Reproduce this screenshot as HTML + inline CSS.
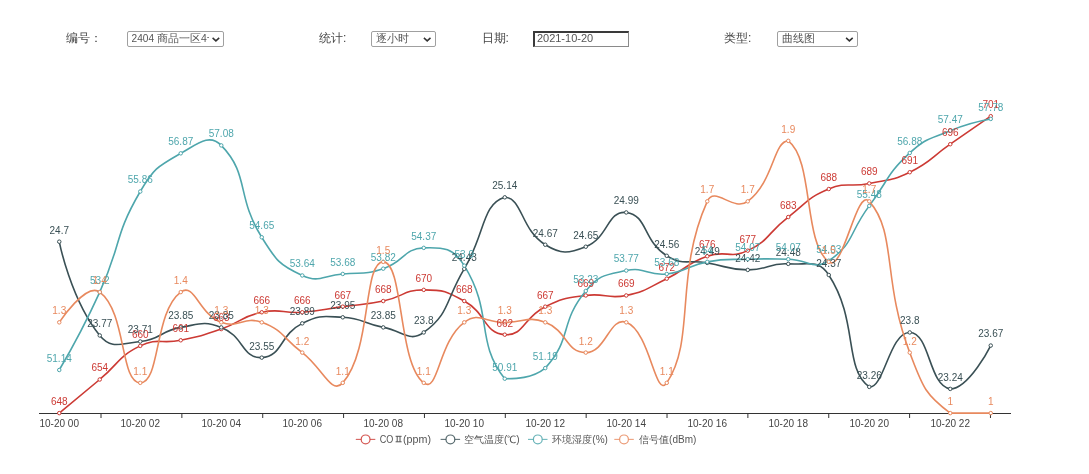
<!DOCTYPE html>
<html><head><meta charset="utf-8"><style>
html,body{margin:0;padding:0;background:#fff;width:1089px;height:474px;overflow:hidden;position:relative;font-family:"Liberation Sans",sans-serif}
body{filter:blur(0.3px)}
svg text{font-family:"Liberation Sans",sans-serif}
.lbl{position:absolute;font-size:12px;color:#444;line-height:16px;top:30.4px;white-space:nowrap}
.sel{position:absolute;top:31.4px;height:15.4px;box-sizing:border-box;border:1px solid #a0a0a0;border-radius:2px;background:#fff;font-size:10.5px;line-height:13.4px;color:#555;padding-left:4px;white-space:nowrap;overflow:hidden}
.sel .t{position:absolute;left:4px;top:0;overflow:hidden;white-space:nowrap}
.sel svg{position:absolute;top:0;left:0}
.date{position:absolute;top:31.3px;height:15.3px;box-sizing:border-box;border-top:2px solid #3a3a3a;border-left:2px solid #3a3a3a;border-right:1.5px solid #8a8a8a;border-bottom:1.5px solid #8a8a8a;background:#fff;font-size:11px;line-height:11.5px;color:#555;padding-left:2px}
</style></head><body>
<div class="lbl" style="left:66px">编号：</div>
<div class="sel" style="left:126.6px;width:97px"><div class="t" style="width:77px"><span style="font-size:10.1px">2404</span> 商品一区4号</div><svg width="98" height="15" style="position:absolute;left:0;top:0"><polyline points="84.6,5.9 87.9,8.9 91.2,5.9" fill="none" stroke="#333" stroke-width="1.5"/></svg></div>
<div class="lbl" style="left:319px">统计:</div>
<div class="sel" style="left:371.3px;width:64.3px"><div class="t">逐小时</div><svg width="65" height="15" style="position:absolute;left:0;top:0"><polyline points="51.9,5.9 55.2,8.9 58.5,5.9" fill="none" stroke="#333" stroke-width="1.5"/></svg></div>
<div class="lbl" style="left:481.5px">日期:</div>
<div class="date" style="left:532.9px;width:96.6px">2021-10-20</div>
<div class="lbl" style="left:724px">类型:</div>
<div class="sel" style="left:777.1px;width:80.5px"><div class="t">曲线图</div><svg width="81" height="15" style="position:absolute;left:0;top:0"><polyline points="68.1,5.9 71.4,8.9 74.7,5.9" fill="none" stroke="#333" stroke-width="1.5"/></svg></div>
<svg width="1089" height="474" viewBox="0 0 1089 474" style="position:absolute;left:0;top:0">
<line x1="39.0" y1="413.50" x2="1011.0" y2="413.50" stroke="#333" stroke-width="1"/>
<line x1="101.00" y1="413.50" x2="101.00" y2="418.00" stroke="#333" stroke-width="1"/>
<line x1="181.86" y1="413.50" x2="181.86" y2="418.00" stroke="#333" stroke-width="1"/>
<line x1="262.72" y1="413.50" x2="262.72" y2="418.00" stroke="#333" stroke-width="1"/>
<line x1="343.58" y1="413.50" x2="343.58" y2="418.00" stroke="#333" stroke-width="1"/>
<line x1="424.44" y1="413.50" x2="424.44" y2="418.00" stroke="#333" stroke-width="1"/>
<line x1="505.30" y1="413.50" x2="505.30" y2="418.00" stroke="#333" stroke-width="1"/>
<line x1="586.16" y1="413.50" x2="586.16" y2="418.00" stroke="#333" stroke-width="1"/>
<line x1="667.02" y1="413.50" x2="667.02" y2="418.00" stroke="#333" stroke-width="1"/>
<line x1="747.88" y1="413.50" x2="747.88" y2="418.00" stroke="#333" stroke-width="1"/>
<line x1="828.74" y1="413.50" x2="828.74" y2="418.00" stroke="#333" stroke-width="1"/>
<line x1="909.60" y1="413.50" x2="909.60" y2="418.00" stroke="#333" stroke-width="1"/>
<line x1="990.46" y1="413.50" x2="990.46" y2="418.00" stroke="#333" stroke-width="1"/>
<text x="59.25" y="427.00" text-anchor="middle" font-size="10.0" fill="#444">10-20 00</text>
<text x="140.25" y="427.00" text-anchor="middle" font-size="10.0" fill="#444">10-20 02</text>
<text x="221.25" y="427.00" text-anchor="middle" font-size="10.0" fill="#444">10-20 04</text>
<text x="302.25" y="427.00" text-anchor="middle" font-size="10.0" fill="#444">10-20 06</text>
<text x="383.25" y="427.00" text-anchor="middle" font-size="10.0" fill="#444">10-20 08</text>
<text x="464.25" y="427.00" text-anchor="middle" font-size="10.0" fill="#444">10-20 10</text>
<text x="545.25" y="427.00" text-anchor="middle" font-size="10.0" fill="#444">10-20 12</text>
<text x="626.25" y="427.00" text-anchor="middle" font-size="10.0" fill="#444">10-20 14</text>
<text x="707.25" y="427.00" text-anchor="middle" font-size="10.0" fill="#444">10-20 16</text>
<text x="788.25" y="427.00" text-anchor="middle" font-size="10.0" fill="#444">10-20 18</text>
<text x="869.25" y="427.00" text-anchor="middle" font-size="10.0" fill="#444">10-20 20</text>
<text x="950.25" y="427.00" text-anchor="middle" font-size="10.0" fill="#444">10-20 22</text>
<path d="M59.25 413.10 C59.25 413.10 79.50 396.29 99.75 379.49 C120.00 362.68 117.46 356.91 140.25 345.88 C157.96 337.31 160.78 344.42 180.75 340.28 C201.28 336.02 201.43 335.93 221.25 329.07 C241.93 321.92 240.70 316.63 261.75 312.27 C281.20 308.23 282.10 313.66 302.25 312.27 C322.60 310.86 322.50 309.47 342.75 306.66 C363.00 303.86 363.28 305.21 383.25 301.06 C403.78 296.80 403.50 289.86 423.75 289.86 C444.00 289.86 446.27 291.12 464.25 301.06 C486.77 313.52 483.83 333.23 504.75 334.67 C524.33 336.03 523.40 317.24 545.25 306.66 C563.90 297.64 565.13 298.31 585.75 295.46 C605.63 292.71 606.80 299.50 626.25 295.46 C647.30 291.09 647.05 288.19 666.75 278.66 C687.55 268.59 685.75 263.68 707.25 256.25 C726.25 249.68 730.04 259.22 747.75 250.65 C770.54 239.61 767.33 232.95 788.25 217.04 C807.83 202.14 806.62 198.21 828.75 189.03 C847.12 181.40 849.28 187.57 869.25 183.42 C889.78 179.17 891.10 181.25 909.75 172.22 C931.60 161.64 930.00 158.22 950.25 144.21 C970.50 130.21 990.75 116.20 990.75 116.20" fill="none" stroke="#cc3a34" stroke-width="1.60" stroke-linejoin="round"/>
<path d="M59.25 241.68 C59.25 241.68 70.84 299.83 99.75 335.46 C111.34 349.74 120.47 343.48 140.25 341.51 C160.97 339.44 159.92 331.02 180.75 327.39 C200.42 323.96 203.24 320.66 221.25 327.39 C243.74 335.79 241.99 358.63 261.75 357.64 C282.49 356.61 279.39 334.74 302.25 323.36 C319.89 314.57 322.69 316.31 342.75 317.31 C363.19 318.33 362.77 323.57 383.25 327.39 C403.27 331.13 409.52 342.71 423.75 332.43 C450.02 313.47 444.89 301.21 464.25 268.91 C485.39 233.65 481.71 204.20 504.75 197.32 C522.21 197.32 520.71 229.74 545.25 244.71 C561.21 254.44 568.21 253.71 585.75 246.73 C608.71 237.58 607.13 210.30 626.25 212.44 C647.63 214.84 642.83 240.91 666.75 255.80 C683.33 266.12 687.00 259.33 707.25 262.86 C727.50 266.39 727.46 269.66 747.75 269.92 C767.96 270.17 768.25 262.62 788.25 263.87 C808.75 265.14 818.19 258.92 828.75 274.96 C858.69 320.43 843.46 368.58 869.25 386.88 C883.96 388.90 889.74 331.94 909.75 332.43 C930.24 332.94 928.40 385.36 950.25 388.90 C968.90 388.90 990.75 345.54 990.75 345.54" fill="none" stroke="#3a5055" stroke-width="1.60" stroke-linejoin="round"/>
<path d="M59.25 369.99 C59.25 369.99 81.63 332.03 99.75 292.10 C122.13 242.79 113.49 237.37 140.25 191.52 C153.99 167.98 157.49 166.57 180.75 153.33 C197.99 143.51 209.45 133.16 221.25 145.39 C249.95 175.13 235.69 195.43 261.75 237.27 C276.19 260.47 278.81 264.85 302.25 275.46 C319.31 283.19 322.58 275.64 342.75 273.95 C363.08 272.24 364.10 274.83 383.25 268.66 C404.60 261.78 403.21 248.63 423.75 247.86 C443.71 247.11 453.35 248.02 464.25 265.63 C493.85 313.44 474.72 340.70 504.75 378.69 C515.22 378.69 532.11 378.69 545.25 368.10 C572.61 338.48 559.12 323.04 585.75 290.97 C599.62 274.27 604.89 275.03 626.25 270.55 C645.39 266.53 646.90 276.08 666.75 273.95 C687.40 271.73 686.59 265.61 707.25 261.85 C727.09 258.24 727.48 259.87 747.75 259.20 C767.98 258.54 768.01 258.83 788.25 259.20 C808.51 259.58 813.65 270.66 828.75 260.72 C854.15 244.00 848.77 233.13 869.25 205.89 C889.27 179.25 885.84 175.16 909.75 152.95 C926.34 137.54 929.07 139.54 950.25 130.64 C969.57 122.53 990.75 118.92 990.75 118.92" fill="none" stroke="#4ea6ac" stroke-width="1.60" stroke-linejoin="round"/>
<path d="M59.25 322.35 C59.25 322.35 86.09 281.90 99.75 292.10 C126.59 312.15 120.00 382.85 140.25 382.85 C160.50 382.85 153.91 312.15 180.75 292.10 C194.41 281.90 198.76 313.95 221.25 322.35 C239.26 329.08 243.74 315.62 261.75 322.35 C284.24 330.75 282.00 337.48 302.25 352.60 C322.50 367.73 331.26 395.73 342.75 382.85 C371.76 350.35 363.00 261.85 383.25 261.85 C403.50 261.85 397.96 363.59 423.75 382.85 C438.46 393.84 438.23 341.79 464.25 322.35 C478.73 311.54 484.50 322.35 504.75 322.35 C525.00 322.35 527.24 315.62 545.25 322.35 C567.74 330.75 565.50 352.60 585.75 352.60 C606.00 352.60 609.65 316.15 626.25 322.35 C650.15 331.28 655.36 399.87 666.75 382.85 C695.86 339.37 673.99 275.87 707.25 201.35 C714.49 185.12 733.27 212.16 747.75 201.35 C773.77 181.91 773.54 140.85 788.25 140.85 C814.04 160.11 802.96 242.59 828.75 261.85 C843.46 272.84 856.40 186.95 869.25 201.35 C896.90 232.32 882.10 280.33 909.75 352.60 C922.60 386.20 924.23 393.66 950.25 413.10 C964.73 413.10 990.75 413.10 990.75 413.10" fill="none" stroke="#e8895e" stroke-width="1.60" stroke-linejoin="round"/>
<circle cx="59.25" cy="413.10" r="1.75" fill="#fff" stroke="#cc3a34" stroke-width="1.00"/>
<circle cx="99.75" cy="379.49" r="1.75" fill="#fff" stroke="#cc3a34" stroke-width="1.00"/>
<circle cx="140.25" cy="345.88" r="1.75" fill="#fff" stroke="#cc3a34" stroke-width="1.00"/>
<circle cx="180.75" cy="340.28" r="1.75" fill="#fff" stroke="#cc3a34" stroke-width="1.00"/>
<circle cx="221.25" cy="329.07" r="1.75" fill="#fff" stroke="#cc3a34" stroke-width="1.00"/>
<circle cx="261.75" cy="312.27" r="1.75" fill="#fff" stroke="#cc3a34" stroke-width="1.00"/>
<circle cx="302.25" cy="312.27" r="1.75" fill="#fff" stroke="#cc3a34" stroke-width="1.00"/>
<circle cx="342.75" cy="306.66" r="1.75" fill="#fff" stroke="#cc3a34" stroke-width="1.00"/>
<circle cx="383.25" cy="301.06" r="1.75" fill="#fff" stroke="#cc3a34" stroke-width="1.00"/>
<circle cx="423.75" cy="289.86" r="1.75" fill="#fff" stroke="#cc3a34" stroke-width="1.00"/>
<circle cx="464.25" cy="301.06" r="1.75" fill="#fff" stroke="#cc3a34" stroke-width="1.00"/>
<circle cx="504.75" cy="334.67" r="1.75" fill="#fff" stroke="#cc3a34" stroke-width="1.00"/>
<circle cx="545.25" cy="306.66" r="1.75" fill="#fff" stroke="#cc3a34" stroke-width="1.00"/>
<circle cx="585.75" cy="295.46" r="1.75" fill="#fff" stroke="#cc3a34" stroke-width="1.00"/>
<circle cx="626.25" cy="295.46" r="1.75" fill="#fff" stroke="#cc3a34" stroke-width="1.00"/>
<circle cx="666.75" cy="278.66" r="1.75" fill="#fff" stroke="#cc3a34" stroke-width="1.00"/>
<circle cx="707.25" cy="256.25" r="1.75" fill="#fff" stroke="#cc3a34" stroke-width="1.00"/>
<circle cx="747.75" cy="250.65" r="1.75" fill="#fff" stroke="#cc3a34" stroke-width="1.00"/>
<circle cx="788.25" cy="217.04" r="1.75" fill="#fff" stroke="#cc3a34" stroke-width="1.00"/>
<circle cx="828.75" cy="189.03" r="1.75" fill="#fff" stroke="#cc3a34" stroke-width="1.00"/>
<circle cx="869.25" cy="183.42" r="1.75" fill="#fff" stroke="#cc3a34" stroke-width="1.00"/>
<circle cx="909.75" cy="172.22" r="1.75" fill="#fff" stroke="#cc3a34" stroke-width="1.00"/>
<circle cx="950.25" cy="144.21" r="1.75" fill="#fff" stroke="#cc3a34" stroke-width="1.00"/>
<circle cx="990.75" cy="116.20" r="1.75" fill="#fff" stroke="#cc3a34" stroke-width="1.00"/>
<circle cx="59.25" cy="241.68" r="1.75" fill="#fff" stroke="#3a5055" stroke-width="1.00"/>
<circle cx="99.75" cy="335.46" r="1.75" fill="#fff" stroke="#3a5055" stroke-width="1.00"/>
<circle cx="140.25" cy="341.51" r="1.75" fill="#fff" stroke="#3a5055" stroke-width="1.00"/>
<circle cx="180.75" cy="327.39" r="1.75" fill="#fff" stroke="#3a5055" stroke-width="1.00"/>
<circle cx="221.25" cy="327.39" r="1.75" fill="#fff" stroke="#3a5055" stroke-width="1.00"/>
<circle cx="261.75" cy="357.64" r="1.75" fill="#fff" stroke="#3a5055" stroke-width="1.00"/>
<circle cx="302.25" cy="323.36" r="1.75" fill="#fff" stroke="#3a5055" stroke-width="1.00"/>
<circle cx="342.75" cy="317.31" r="1.75" fill="#fff" stroke="#3a5055" stroke-width="1.00"/>
<circle cx="383.25" cy="327.39" r="1.75" fill="#fff" stroke="#3a5055" stroke-width="1.00"/>
<circle cx="423.75" cy="332.43" r="1.75" fill="#fff" stroke="#3a5055" stroke-width="1.00"/>
<circle cx="464.25" cy="268.91" r="1.75" fill="#fff" stroke="#3a5055" stroke-width="1.00"/>
<circle cx="504.75" cy="197.32" r="1.75" fill="#fff" stroke="#3a5055" stroke-width="1.00"/>
<circle cx="545.25" cy="244.71" r="1.75" fill="#fff" stroke="#3a5055" stroke-width="1.00"/>
<circle cx="585.75" cy="246.73" r="1.75" fill="#fff" stroke="#3a5055" stroke-width="1.00"/>
<circle cx="626.25" cy="212.44" r="1.75" fill="#fff" stroke="#3a5055" stroke-width="1.00"/>
<circle cx="666.75" cy="255.80" r="1.75" fill="#fff" stroke="#3a5055" stroke-width="1.00"/>
<circle cx="707.25" cy="262.86" r="1.75" fill="#fff" stroke="#3a5055" stroke-width="1.00"/>
<circle cx="747.75" cy="269.92" r="1.75" fill="#fff" stroke="#3a5055" stroke-width="1.00"/>
<circle cx="788.25" cy="263.87" r="1.75" fill="#fff" stroke="#3a5055" stroke-width="1.00"/>
<circle cx="828.75" cy="274.96" r="1.75" fill="#fff" stroke="#3a5055" stroke-width="1.00"/>
<circle cx="869.25" cy="386.88" r="1.75" fill="#fff" stroke="#3a5055" stroke-width="1.00"/>
<circle cx="909.75" cy="332.43" r="1.75" fill="#fff" stroke="#3a5055" stroke-width="1.00"/>
<circle cx="950.25" cy="388.90" r="1.75" fill="#fff" stroke="#3a5055" stroke-width="1.00"/>
<circle cx="990.75" cy="345.54" r="1.75" fill="#fff" stroke="#3a5055" stroke-width="1.00"/>
<circle cx="59.25" cy="369.99" r="1.75" fill="#fff" stroke="#4ea6ac" stroke-width="1.00"/>
<circle cx="99.75" cy="292.10" r="1.75" fill="#fff" stroke="#4ea6ac" stroke-width="1.00"/>
<circle cx="140.25" cy="191.52" r="1.75" fill="#fff" stroke="#4ea6ac" stroke-width="1.00"/>
<circle cx="180.75" cy="153.33" r="1.75" fill="#fff" stroke="#4ea6ac" stroke-width="1.00"/>
<circle cx="221.25" cy="145.39" r="1.75" fill="#fff" stroke="#4ea6ac" stroke-width="1.00"/>
<circle cx="261.75" cy="237.27" r="1.75" fill="#fff" stroke="#4ea6ac" stroke-width="1.00"/>
<circle cx="302.25" cy="275.46" r="1.75" fill="#fff" stroke="#4ea6ac" stroke-width="1.00"/>
<circle cx="342.75" cy="273.95" r="1.75" fill="#fff" stroke="#4ea6ac" stroke-width="1.00"/>
<circle cx="383.25" cy="268.66" r="1.75" fill="#fff" stroke="#4ea6ac" stroke-width="1.00"/>
<circle cx="423.75" cy="247.86" r="1.75" fill="#fff" stroke="#4ea6ac" stroke-width="1.00"/>
<circle cx="464.25" cy="265.63" r="1.75" fill="#fff" stroke="#4ea6ac" stroke-width="1.00"/>
<circle cx="504.75" cy="378.69" r="1.75" fill="#fff" stroke="#4ea6ac" stroke-width="1.00"/>
<circle cx="545.25" cy="368.10" r="1.75" fill="#fff" stroke="#4ea6ac" stroke-width="1.00"/>
<circle cx="585.75" cy="290.97" r="1.75" fill="#fff" stroke="#4ea6ac" stroke-width="1.00"/>
<circle cx="626.25" cy="270.55" r="1.75" fill="#fff" stroke="#4ea6ac" stroke-width="1.00"/>
<circle cx="666.75" cy="273.95" r="1.75" fill="#fff" stroke="#4ea6ac" stroke-width="1.00"/>
<circle cx="707.25" cy="261.85" r="1.75" fill="#fff" stroke="#4ea6ac" stroke-width="1.00"/>
<circle cx="747.75" cy="259.20" r="1.75" fill="#fff" stroke="#4ea6ac" stroke-width="1.00"/>
<circle cx="788.25" cy="259.20" r="1.75" fill="#fff" stroke="#4ea6ac" stroke-width="1.00"/>
<circle cx="828.75" cy="260.72" r="1.75" fill="#fff" stroke="#4ea6ac" stroke-width="1.00"/>
<circle cx="869.25" cy="205.89" r="1.75" fill="#fff" stroke="#4ea6ac" stroke-width="1.00"/>
<circle cx="909.75" cy="152.95" r="1.75" fill="#fff" stroke="#4ea6ac" stroke-width="1.00"/>
<circle cx="950.25" cy="130.64" r="1.75" fill="#fff" stroke="#4ea6ac" stroke-width="1.00"/>
<circle cx="990.75" cy="118.92" r="1.75" fill="#fff" stroke="#4ea6ac" stroke-width="1.00"/>
<circle cx="59.25" cy="322.35" r="1.75" fill="#fff" stroke="#e8895e" stroke-width="1.00"/>
<circle cx="99.75" cy="292.10" r="1.75" fill="#fff" stroke="#e8895e" stroke-width="1.00"/>
<circle cx="140.25" cy="382.85" r="1.75" fill="#fff" stroke="#e8895e" stroke-width="1.00"/>
<circle cx="180.75" cy="292.10" r="1.75" fill="#fff" stroke="#e8895e" stroke-width="1.00"/>
<circle cx="221.25" cy="322.35" r="1.75" fill="#fff" stroke="#e8895e" stroke-width="1.00"/>
<circle cx="261.75" cy="322.35" r="1.75" fill="#fff" stroke="#e8895e" stroke-width="1.00"/>
<circle cx="302.25" cy="352.60" r="1.75" fill="#fff" stroke="#e8895e" stroke-width="1.00"/>
<circle cx="342.75" cy="382.85" r="1.75" fill="#fff" stroke="#e8895e" stroke-width="1.00"/>
<circle cx="383.25" cy="261.85" r="1.75" fill="#fff" stroke="#e8895e" stroke-width="1.00"/>
<circle cx="423.75" cy="382.85" r="1.75" fill="#fff" stroke="#e8895e" stroke-width="1.00"/>
<circle cx="464.25" cy="322.35" r="1.75" fill="#fff" stroke="#e8895e" stroke-width="1.00"/>
<circle cx="504.75" cy="322.35" r="1.75" fill="#fff" stroke="#e8895e" stroke-width="1.00"/>
<circle cx="545.25" cy="322.35" r="1.75" fill="#fff" stroke="#e8895e" stroke-width="1.00"/>
<circle cx="585.75" cy="352.60" r="1.75" fill="#fff" stroke="#e8895e" stroke-width="1.00"/>
<circle cx="626.25" cy="322.35" r="1.75" fill="#fff" stroke="#e8895e" stroke-width="1.00"/>
<circle cx="666.75" cy="382.85" r="1.75" fill="#fff" stroke="#e8895e" stroke-width="1.00"/>
<circle cx="707.25" cy="201.35" r="1.75" fill="#fff" stroke="#e8895e" stroke-width="1.00"/>
<circle cx="747.75" cy="201.35" r="1.75" fill="#fff" stroke="#e8895e" stroke-width="1.00"/>
<circle cx="788.25" cy="140.85" r="1.75" fill="#fff" stroke="#e8895e" stroke-width="1.00"/>
<circle cx="828.75" cy="261.85" r="1.75" fill="#fff" stroke="#e8895e" stroke-width="1.00"/>
<circle cx="869.25" cy="201.35" r="1.75" fill="#fff" stroke="#e8895e" stroke-width="1.00"/>
<circle cx="909.75" cy="352.60" r="1.75" fill="#fff" stroke="#e8895e" stroke-width="1.00"/>
<circle cx="950.25" cy="413.10" r="1.75" fill="#fff" stroke="#e8895e" stroke-width="1.00"/>
<circle cx="990.75" cy="413.10" r="1.75" fill="#fff" stroke="#e8895e" stroke-width="1.00"/>
<text x="59.25" y="405.00" text-anchor="middle" font-size="10.0" fill="#cc3a34">648</text>
<text x="99.75" y="371.39" text-anchor="middle" font-size="10.0" fill="#cc3a34">654</text>
<text x="140.25" y="337.78" text-anchor="middle" font-size="10.0" fill="#cc3a34">660</text>
<text x="180.75" y="332.18" text-anchor="middle" font-size="10.0" fill="#cc3a34">661</text>
<text x="221.25" y="320.97" text-anchor="middle" font-size="10.0" fill="#cc3a34">663</text>
<text x="261.75" y="304.17" text-anchor="middle" font-size="10.0" fill="#cc3a34">666</text>
<text x="302.25" y="304.17" text-anchor="middle" font-size="10.0" fill="#cc3a34">666</text>
<text x="342.75" y="298.56" text-anchor="middle" font-size="10.0" fill="#cc3a34">667</text>
<text x="383.25" y="292.96" text-anchor="middle" font-size="10.0" fill="#cc3a34">668</text>
<text x="423.75" y="281.76" text-anchor="middle" font-size="10.0" fill="#cc3a34">670</text>
<text x="464.25" y="292.96" text-anchor="middle" font-size="10.0" fill="#cc3a34">668</text>
<text x="504.75" y="326.57" text-anchor="middle" font-size="10.0" fill="#cc3a34">662</text>
<text x="545.25" y="298.56" text-anchor="middle" font-size="10.0" fill="#cc3a34">667</text>
<text x="585.75" y="287.36" text-anchor="middle" font-size="10.0" fill="#cc3a34">669</text>
<text x="626.25" y="287.36" text-anchor="middle" font-size="10.0" fill="#cc3a34">669</text>
<text x="666.75" y="270.56" text-anchor="middle" font-size="10.0" fill="#cc3a34">672</text>
<text x="707.25" y="248.15" text-anchor="middle" font-size="10.0" fill="#cc3a34">676</text>
<text x="747.75" y="242.55" text-anchor="middle" font-size="10.0" fill="#cc3a34">677</text>
<text x="788.25" y="208.94" text-anchor="middle" font-size="10.0" fill="#cc3a34">683</text>
<text x="828.75" y="180.93" text-anchor="middle" font-size="10.0" fill="#cc3a34">688</text>
<text x="869.25" y="175.32" text-anchor="middle" font-size="10.0" fill="#cc3a34">689</text>
<text x="909.75" y="164.12" text-anchor="middle" font-size="10.0" fill="#cc3a34">691</text>
<text x="950.25" y="136.11" text-anchor="middle" font-size="10.0" fill="#cc3a34">696</text>
<text x="990.75" y="108.10" text-anchor="middle" font-size="10.0" fill="#cc3a34">701</text>
<text x="59.25" y="233.58" text-anchor="middle" font-size="10.0" fill="#3a5055">24.7</text>
<text x="99.75" y="327.36" text-anchor="middle" font-size="10.0" fill="#3a5055">23.77</text>
<text x="140.25" y="333.41" text-anchor="middle" font-size="10.0" fill="#3a5055">23.71</text>
<text x="180.75" y="319.29" text-anchor="middle" font-size="10.0" fill="#3a5055">23.85</text>
<text x="221.25" y="319.29" text-anchor="middle" font-size="10.0" fill="#3a5055">23.85</text>
<text x="261.75" y="349.54" text-anchor="middle" font-size="10.0" fill="#3a5055">23.55</text>
<text x="302.25" y="315.26" text-anchor="middle" font-size="10.0" fill="#3a5055">23.89</text>
<text x="342.75" y="309.21" text-anchor="middle" font-size="10.0" fill="#3a5055">23.95</text>
<text x="383.25" y="319.29" text-anchor="middle" font-size="10.0" fill="#3a5055">23.85</text>
<text x="423.75" y="324.33" text-anchor="middle" font-size="10.0" fill="#3a5055">23.8</text>
<text x="464.25" y="260.81" text-anchor="middle" font-size="10.0" fill="#3a5055">24.43</text>
<text x="504.75" y="189.22" text-anchor="middle" font-size="10.0" fill="#3a5055">25.14</text>
<text x="545.25" y="236.61" text-anchor="middle" font-size="10.0" fill="#3a5055">24.67</text>
<text x="585.75" y="238.63" text-anchor="middle" font-size="10.0" fill="#3a5055">24.65</text>
<text x="626.25" y="204.34" text-anchor="middle" font-size="10.0" fill="#3a5055">24.99</text>
<text x="666.75" y="247.70" text-anchor="middle" font-size="10.0" fill="#3a5055">24.56</text>
<text x="707.25" y="254.76" text-anchor="middle" font-size="10.0" fill="#3a5055">24.49</text>
<text x="747.75" y="261.82" text-anchor="middle" font-size="10.0" fill="#3a5055">24.42</text>
<text x="788.25" y="255.77" text-anchor="middle" font-size="10.0" fill="#3a5055">24.48</text>
<text x="828.75" y="266.86" text-anchor="middle" font-size="10.0" fill="#3a5055">24.37</text>
<text x="869.25" y="378.78" text-anchor="middle" font-size="10.0" fill="#3a5055">23.26</text>
<text x="909.75" y="324.33" text-anchor="middle" font-size="10.0" fill="#3a5055">23.8</text>
<text x="950.25" y="380.80" text-anchor="middle" font-size="10.0" fill="#3a5055">23.24</text>
<text x="990.75" y="337.44" text-anchor="middle" font-size="10.0" fill="#3a5055">23.67</text>
<text x="59.25" y="361.89" text-anchor="middle" font-size="10.0" fill="#4ea6ac">51.14</text>
<text x="99.75" y="284.00" text-anchor="middle" font-size="10.0" fill="#4ea6ac">53.2</text>
<text x="140.25" y="183.42" text-anchor="middle" font-size="10.0" fill="#4ea6ac">55.86</text>
<text x="180.75" y="145.23" text-anchor="middle" font-size="10.0" fill="#4ea6ac">56.87</text>
<text x="221.25" y="137.29" text-anchor="middle" font-size="10.0" fill="#4ea6ac">57.08</text>
<text x="261.75" y="229.17" text-anchor="middle" font-size="10.0" fill="#4ea6ac">54.65</text>
<text x="302.25" y="267.36" text-anchor="middle" font-size="10.0" fill="#4ea6ac">53.64</text>
<text x="342.75" y="265.85" text-anchor="middle" font-size="10.0" fill="#4ea6ac">53.68</text>
<text x="383.25" y="260.56" text-anchor="middle" font-size="10.0" fill="#4ea6ac">53.82</text>
<text x="423.75" y="239.76" text-anchor="middle" font-size="10.0" fill="#4ea6ac">54.37</text>
<text x="464.25" y="257.53" text-anchor="middle" font-size="10.0" fill="#4ea6ac">53.9</text>
<text x="504.75" y="370.59" text-anchor="middle" font-size="10.0" fill="#4ea6ac">50.91</text>
<text x="545.25" y="360.00" text-anchor="middle" font-size="10.0" fill="#4ea6ac">51.19</text>
<text x="585.75" y="282.87" text-anchor="middle" font-size="10.0" fill="#4ea6ac">53.23</text>
<text x="626.25" y="262.45" text-anchor="middle" font-size="10.0" fill="#4ea6ac">53.77</text>
<text x="666.75" y="265.85" text-anchor="middle" font-size="10.0" fill="#4ea6ac">53.68</text>
<text x="707.25" y="253.75" text-anchor="middle" font-size="10.0" fill="#4ea6ac">54</text>
<text x="747.75" y="251.10" text-anchor="middle" font-size="10.0" fill="#4ea6ac">54.07</text>
<text x="788.25" y="251.10" text-anchor="middle" font-size="10.0" fill="#4ea6ac">54.07</text>
<text x="828.75" y="252.62" text-anchor="middle" font-size="10.0" fill="#4ea6ac">54.03</text>
<text x="869.25" y="197.79" text-anchor="middle" font-size="10.0" fill="#4ea6ac">55.48</text>
<text x="909.75" y="144.85" text-anchor="middle" font-size="10.0" fill="#4ea6ac">56.88</text>
<text x="950.25" y="122.54" text-anchor="middle" font-size="10.0" fill="#4ea6ac">57.47</text>
<text x="990.75" y="110.82" text-anchor="middle" font-size="10.0" fill="#4ea6ac">57.78</text>
<text x="59.25" y="314.25" text-anchor="middle" font-size="10.0" fill="#e8895e">1.3</text>
<text x="99.75" y="284.00" text-anchor="middle" font-size="10.0" fill="#e8895e">1.4</text>
<text x="140.25" y="374.75" text-anchor="middle" font-size="10.0" fill="#e8895e">1.1</text>
<text x="180.75" y="284.00" text-anchor="middle" font-size="10.0" fill="#e8895e">1.4</text>
<text x="221.25" y="314.25" text-anchor="middle" font-size="10.0" fill="#e8895e">1.3</text>
<text x="261.75" y="314.25" text-anchor="middle" font-size="10.0" fill="#e8895e">1.3</text>
<text x="302.25" y="344.50" text-anchor="middle" font-size="10.0" fill="#e8895e">1.2</text>
<text x="342.75" y="374.75" text-anchor="middle" font-size="10.0" fill="#e8895e">1.1</text>
<text x="383.25" y="253.75" text-anchor="middle" font-size="10.0" fill="#e8895e">1.5</text>
<text x="423.75" y="374.75" text-anchor="middle" font-size="10.0" fill="#e8895e">1.1</text>
<text x="464.25" y="314.25" text-anchor="middle" font-size="10.0" fill="#e8895e">1.3</text>
<text x="504.75" y="314.25" text-anchor="middle" font-size="10.0" fill="#e8895e">1.3</text>
<text x="545.25" y="314.25" text-anchor="middle" font-size="10.0" fill="#e8895e">1.3</text>
<text x="585.75" y="344.50" text-anchor="middle" font-size="10.0" fill="#e8895e">1.2</text>
<text x="626.25" y="314.25" text-anchor="middle" font-size="10.0" fill="#e8895e">1.3</text>
<text x="666.75" y="374.75" text-anchor="middle" font-size="10.0" fill="#e8895e">1.1</text>
<text x="707.25" y="193.25" text-anchor="middle" font-size="10.0" fill="#e8895e">1.7</text>
<text x="747.75" y="193.25" text-anchor="middle" font-size="10.0" fill="#e8895e">1.7</text>
<text x="788.25" y="132.75" text-anchor="middle" font-size="10.0" fill="#e8895e">1.9</text>
<text x="828.75" y="253.75" text-anchor="middle" font-size="10.0" fill="#e8895e">1.5</text>
<text x="869.25" y="193.25" text-anchor="middle" font-size="10.0" fill="#e8895e">1.7</text>
<text x="909.75" y="344.50" text-anchor="middle" font-size="10.0" fill="#e8895e">1.2</text>
<text x="950.25" y="405.00" text-anchor="middle" font-size="10.0" fill="#e8895e">1</text>
<text x="990.75" y="405.00" text-anchor="middle" font-size="10.0" fill="#e8895e">1</text>
<line x1="355.8" y1="439.4" x2="375.3" y2="439.4" stroke="#cc3a34" stroke-width="1.1" stroke-opacity="0.8"/>
<circle cx="365.6" cy="439.4" r="4.4" fill="#fff" stroke="#cc3a34" stroke-width="1.2" stroke-opacity="0.85"/>
<text x="379.8" y="443.0" font-size="10.0" fill="#555" textLength="13.6" lengthAdjust="spacingAndGlyphs">CO</text>
<path d="M395.6 436.3H401.6M395.6 441.8H401.6M397.2 436.3V441.8M400.0 436.3V441.8" stroke="#555" stroke-width="1" fill="none"/>
<text x="403.0" y="443.0" font-size="10.0" fill="#555" textLength="28" lengthAdjust="spacingAndGlyphs">(ppm)</text>
<line x1="440.6" y1="439.4" x2="460.1" y2="439.4" stroke="#3a5055" stroke-width="1.1" stroke-opacity="0.8"/>
<circle cx="450.4" cy="439.4" r="4.4" fill="#fff" stroke="#3a5055" stroke-width="1.2" stroke-opacity="0.85"/>
<text x="464.0" y="443.0" font-size="10.0" fill="#555">空气温度(&#8451;)</text>
<line x1="528.0" y1="439.4" x2="547.5" y2="439.4" stroke="#4ea6ac" stroke-width="1.1" stroke-opacity="0.8"/>
<circle cx="537.8" cy="439.4" r="4.4" fill="#fff" stroke="#4ea6ac" stroke-width="1.2" stroke-opacity="0.85"/>
<text x="552.3" y="443.0" font-size="10.0" fill="#555">环境湿度(%)</text>
<line x1="614.3" y1="439.4" x2="633.8" y2="439.4" stroke="#e8895e" stroke-width="1.1" stroke-opacity="0.8"/>
<circle cx="624.0" cy="439.4" r="4.4" fill="#fff" stroke="#e8895e" stroke-width="1.2" stroke-opacity="0.85"/>
<text x="639.1" y="443.0" font-size="10.0" fill="#555">信号值(dBm)</text>
</svg>
</body></html>
